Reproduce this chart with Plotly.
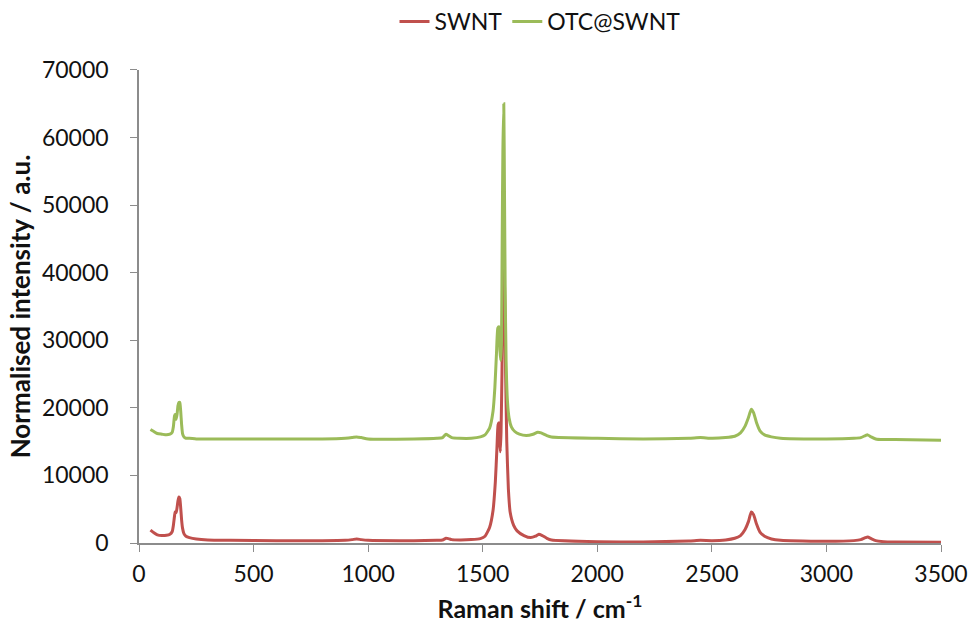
import plotly.graph_objects as go

# SWNT spectrum (Raman shift cm-1, intensity)
swnt_x = [50, 65, 80, 100, 120, 135, 145, 150, 155, 158, 162, 166, 170, 174, 178, 182, 186, 190, 196, 205, 220, 250, 300, 400, 600, 800, 900,
          930, 950, 970, 1000, 1200, 1300, 1325, 1340, 1350, 1365, 1400, 1450, 1490, 1510, 1530, 1545, 1555, 1562, 1567, 1571, 1574, 1577,
          1580, 1584, 1588, 1592, 1596, 1600, 1605, 1612, 1620, 1635, 1650, 1680, 1710, 1730, 1745, 1760, 1780, 1800, 2000, 2200, 2400,
          2450, 2500, 2560, 2600, 2625, 2645, 2660, 2672, 2682, 2695, 2710, 2730, 2760, 2800, 3000, 3120, 3150, 3170, 3180, 3195, 3215, 3250, 3300, 3500]
swnt_y = [1900, 1500, 1200, 1100, 1150, 1300, 1700, 2600, 4000, 4600, 4500, 5200, 6200, 6800, 6600, 5200, 3400, 2200, 1400, 1000, 800, 600, 450, 400, 350, 350, 400,
          500, 600, 500, 400, 350, 400, 450, 700, 650, 500, 450, 500, 650, 1000, 2300, 4800, 9000, 14000, 17500, 17800, 15000, 13500,
          16500, 25000, 38000, 45000, 36000, 25000, 15000, 8000, 4500, 2600, 1800, 1100, 800, 1000, 1300, 1100, 700, 450, 200, 150, 300,
          400, 350, 450, 700, 1100, 2000, 3200, 4600, 4200, 2800, 1600, 1000, 600, 400, 250, 350, 500, 800, 900, 650, 350, 200, 150, 100]

# OTC@SWNT spectrum
otc_x = [50, 65, 80, 100, 120, 135, 145, 150, 155, 158, 162, 166, 170, 174, 178, 182, 186, 190, 196, 205, 220, 250, 300, 400, 600, 800, 900,
         930, 950, 970, 1000, 1200, 1300, 1325, 1340, 1350, 1365, 1400, 1450, 1490, 1510, 1530, 1545, 1553, 1560, 1566, 1571, 1575, 1579,
         1582, 1585, 1588, 1592, 1595, 1598, 1602, 1608, 1615, 1625, 1640, 1660, 1690, 1720, 1740, 1755, 1780, 1800, 2000, 2200, 2400,
         2450, 2500, 2560, 2600, 2625, 2645, 2660, 2672, 2682, 2695, 2710, 2730, 2760, 2800, 3000, 3120, 3150, 3170, 3180, 3195, 3215, 3250, 3300, 3500]
otc_y = [16800, 16500, 16200, 16100, 16000, 16100, 16400, 17200, 18800, 19000, 18300, 19000, 20300, 20800, 20800, 19500, 17500, 16200, 15700, 15500, 15500, 15400, 15400, 15400, 15400, 15400, 15500,
         15600, 15700, 15600, 15400, 15400, 15500, 15600, 16100, 15900, 15600, 15500, 15500, 15700, 16000, 17000, 19500, 23000, 28000, 31800, 32000, 28500, 27000,
         30000, 45000, 58000, 65000, 52000, 38000, 27000, 21000, 18500, 17200, 16500, 16100, 15900, 16100, 16400, 16300, 15900, 15700, 15500, 15400, 15500,
         15600, 15500, 15600, 15800, 16300, 17300, 18600, 19800, 19300, 17800, 16600, 16000, 15700, 15500, 15400, 15500, 15600, 15900, 16000, 15700, 15400, 15300, 15300, 15200]

y_ticks = [0, 10000, 20000, 30000, 40000, 50000, 60000, 70000]
x_ticks = [0, 500, 1000, 1500, 2000, 2500, 3000, 3500]

RED = "#C0504D"
GREEN = "#9BBB59"
FONT = "Lato"

fig = go.Figure()
fig.add_trace(go.Scatter(x=swnt_x, y=swnt_y, mode="lines", name="SWNT",
                         line=dict(color=RED, width=3, shape="spline", smoothing=0.5)))
fig.add_trace(go.Scatter(x=otc_x, y=otc_y, mode="lines", name="OTC@SWNT",
                         line=dict(color=GREEN, width=3, shape="spline", smoothing=0.5)))

fig.update_layout(
    width=980, height=631,
    paper_bgcolor="white", plot_bgcolor="white",
    margin=dict(l=139, r=32, t=69, b=86),
    font=dict(family=FONT, size=23, color="#111111"),
    legend=dict(orientation="h", x=0.5, xanchor="center", y=1.0, yanchor="top",
                yref="container", font=dict(size=23)),
    showlegend=True,
)
fig.update_xaxes(range=[0, 3500], tickvals=x_ticks, ticktext=[str(v) for v in x_ticks],
                 showline=True, linecolor="#8c8c8c", linewidth=1.5, ticks="outside",
                 tickcolor="#8c8c8c", ticklen=7, showgrid=False, zeroline=False,
                 ticklabelstandoff=3,
                 title=dict(text="<b>Raman shift / cm<sup>-1</sup></b>", font=dict(size=25), standoff=14))
fig.update_yaxes(range=[0, 70000], tickvals=y_ticks, ticktext=[str(v) for v in y_ticks],
                 showline=True, linecolor="#8c8c8c", linewidth=1.5, ticks="outside",
                 tickcolor="#8c8c8c", ticklen=7, showgrid=False, zeroline=False,
                 ticklabelstandoff=17,
                 title=dict(text="<b>Normalised intensity / a.u.</b>", font=dict(size=26), standoff=4))

fig.write_html("out.html")
